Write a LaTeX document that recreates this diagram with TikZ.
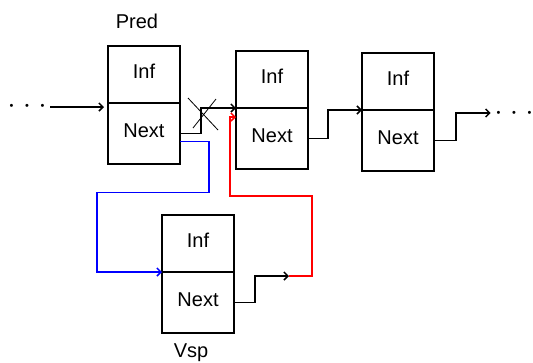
\documentclass[tikz,border=0pt]{standalone}
\usepackage{fontspec}
\setmainfont{Liberation Sans}
\usetikzlibrary{arrows.meta,positioning,calc}

\tikzset{
  cell/.style={draw,line width=1.5pt,minimum width=72pt,minimum height=57pt,
    inner sep=0pt,outer sep=0pt,text height=15pt,text depth=8pt},
  tailcell/.style={cell,minimum height=61pt},
  link/.style={line width=1.5pt,-{Straight Barb[length=4pt,width=8pt]}},
  dots/.style={inner sep=0pt,outer sep=0pt,font=\fontsize{11}{12}\selectfont}
}

\begin{document}
\begin{tikzpicture}[x=1pt,y=-1pt,font=\fontsize{20}{24}\selectfont]
\useasboundingbox (0,0) rectangle (533,362);

\foreach \n/\x/\y in {p/144/46,a/272/51,b/398/53,v/198/215} {
  \node [cell,anchor=north] (\n-inf) at (\x,\y) {Inf};
  \node [tailcell,anchor=north] (\n-next) at (\n-inf.south) {Next};
}

\node (pred) at (137,21) {Pred};
\node (vsp) at (191,353) {Vsp};

\node [dots] (ldots) at (27,107) {•\hspace{11.6pt}•\hspace{11.6pt}•};
\node [dots] (rdots) at (514,114) {•\hspace{11.6pt}•\hspace{11.6pt}•};
\coordinate (vtip) at (289,276);

\draw [link,shorten <=6pt,shorten >=4pt] (ldots.east |- 0,107) -- (p-inf.west |- 0,107);
\draw [link] (p-next.east) -- ++(21,0) |- (a-inf.south west);
\draw [line width=0.8pt] (188,98) -- (218,130) (193,128) -- (216,99);
\draw [link] (a-next.east) -- ++(20,0) |- (b-inf.south west);
\draw [link,shorten >=6pt] (b-next.east) -- ++(22,0) |- (rdots.west |- 0,113);
\draw [link,blue] ([yshift=-8pt]p-next.east) -- ++(29,0) -- ++(0,51) -- ++(-112,0) |- (v-inf.south west);
\draw [link] (v-next.east) -- ++(21,0) |- (vtip);
\draw [link,red] (vtip) -- ++(23,0) -- ++(0,-80) -- ++(-82,0) |- ([yshift=-9pt]a-next.north west);

\end{tikzpicture}
\end{document}
